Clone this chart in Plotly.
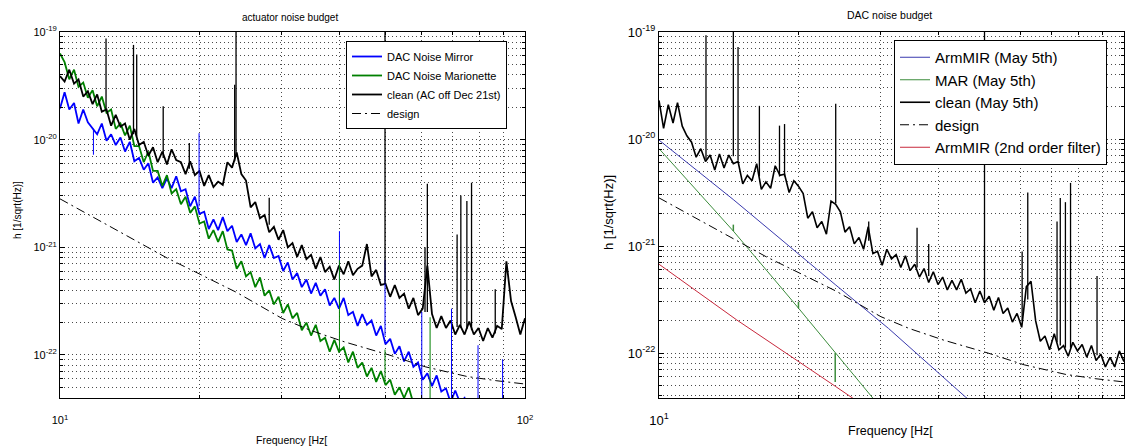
import plotly.graph_objects as go

W, H = 1129, 448
FONT = "Liberation Sans, Arial, sans-serif"

# ---------------- data (frequencies in Hz, amplitudes as log10 of h [1/sqrt(Hz)]) ----------------
freq_hz = [10.00, 10.23, 10.47, 10.72, 10.96, 11.22, 11.48, 11.75, 12.02, 12.30,
           12.59, 12.88, 13.18, 13.49, 13.80, 14.13, 14.45, 14.79, 15.14, 15.49,
           15.85, 16.22, 16.60, 16.98, 17.38, 17.78, 18.20, 18.62, 19.05, 19.50,
           19.95, 20.42, 20.89, 21.38, 21.88, 22.39, 22.91, 23.44, 23.99, 24.55,
           25.12, 25.70, 26.30, 26.92, 27.54, 28.18, 28.84, 29.51, 30.20, 30.90,
           31.62, 32.36, 33.11, 33.88, 34.67, 35.48, 36.31, 37.15, 38.02, 38.90,
           39.81, 40.74, 41.69, 42.66, 43.65, 44.67, 45.71, 46.77, 47.86, 48.98,
           50.12, 51.29, 52.48, 53.70, 54.95, 56.23, 57.54, 58.88, 60.26, 61.66,
           63.10, 64.57, 66.07, 67.61, 69.18, 70.79, 72.44, 74.13, 75.86, 77.62,
           79.43, 81.28, 83.18, 85.11, 87.10, 89.13, 91.20, 93.33, 95.50, 97.72,
           100.0]

# left panel: actuator noise budget
mirror_left_log10 = [
    -19.71, -19.56, -19.72, -19.66, -19.85, -19.72, -19.84, -19.90, -19.95, -19.85,
    -20.01, -19.95, -20.05, -19.98, -20.11, -20.02, -20.20, -20.17, -20.28, -20.22,
    -20.40, -20.35, -20.45, -20.36, -20.45, -20.34, -20.48, -20.46, -20.62, -20.53,
    -20.69, -20.67, -20.83, -20.74, -20.84, -20.72, -20.85, -20.80, -20.95, -20.88,
    -20.98, -20.87, -21.01, -20.97, -21.10, -20.98, -21.10, -21.08, -21.22, -21.14,
    -21.30, -21.24, -21.37, -21.30, -21.43, -21.33, -21.45, -21.39, -21.54, -21.47,
    -21.57, -21.47, -21.63, -21.60, -21.73, -21.62, -21.72, -21.68, -21.82, -21.73,
    -21.90, -21.85, -21.99, -21.92, -22.06, -21.97, -22.11, -22.07, -22.23, -22.17,
    -22.29, -22.19, -22.34, -22.31, -22.44, -22.33, -22.44, -22.40, -22.54, -22.45,
    -22.61]
marionette_left_log10 = [
    -19.20, -19.28, -19.44, -19.35, -19.51, -19.47, -19.61, -19.54, -19.69, -19.60,
    -19.75, -19.72, -19.90, -19.85, -19.96, -19.87, -20.06, -20.06, -20.21, -20.11,
    -20.29, -20.29, -20.43, -20.33, -20.50, -20.46, -20.60, -20.53, -20.68, -20.62,
    -20.78, -20.76, -20.92, -20.84, -20.95, -20.85, -21.02, -21.03, -21.20, -21.13,
    -21.27, -21.23, -21.37, -21.28, -21.45, -21.40, -21.53, -21.46, -21.61, -21.53,
    -21.66, -21.61, -21.77, -21.70, -21.82, -21.72, -21.87, -21.84, -21.97, -21.86,
    -21.97, -21.93, -22.07, -21.97, -22.12, -22.07, -22.20, -22.12, -22.25, -22.15,
    -22.28, -22.23, -22.37, -22.30, -22.40, -22.30, -22.45, -22.42, -22.56, -22.46,
    -22.60]
clean_dec21_log10 = [
    -19.41, -19.46, -19.35, -19.48, -19.44, -19.60, -19.55, -19.67, -19.58, -19.74,
    -19.72, -19.87, -19.77, -19.88, -19.85, -20.00, -19.90, -20.05, -20.02, -20.15,
    -20.07, -20.21, -20.11, -20.23, -20.09, -20.19, -20.21, -20.32, -20.20, -20.33,
    -20.29, -20.43, -20.33, -20.44, -20.39, -20.42, -20.21, -20.26, -20.12, -20.32,
    -20.38, -20.63, -20.58, -20.73, -20.70, -20.86, -20.81, -20.93, -20.84, -21.00,
    -20.96, -21.09, -20.98, -21.11, -21.07, -21.20, -21.09, -21.23, -21.18, -21.30,
    -21.17, -21.25, -21.13, -21.26, -21.20, -21.17, -20.97, -21.27, -21.21, -21.35,
    -21.34, -21.46, -21.35, -21.47, -21.43, -21.57, -21.47, -21.63, -21.57, -21.17,
    -21.62, -21.75, -21.64, -21.75, -21.68, -21.81, -21.72, -21.81, -21.69, -21.81,
    -21.75, -21.87, -21.75, -21.84, -21.73, -21.76, -21.13, -21.50, -21.65, -21.81,
    -21.66]

# narrow lines (frequency, level at the foot, level at the tip)
clean_dec21_line_hz = [12.56, 14.39, 14.62, 16.67, 18.97, 23.75, 23.91, 28.18, 50.0,
                       60.95, 61.66, 71.45, 72.78, 74.99, 76.74, 86.3]
clean_dec21_line_lo = [-19.72, -19.95, -19.97, -20.17, -20.27, -20.20, -20.15, -20.79, -21.34,
                       -21.60, -21.60, -21.74, -21.75, -21.76, -21.77, -21.80]
clean_dec21_line_hi = [-19.06, -19.12, -19.21, -19.69, -20.03, -19.49, -19.00, -20.54, -19.00,
                       -21.00, -20.41, -20.88, -20.52, -20.57, -20.40, -21.39]
mirror_left_line_hz = [11.80, 19.91, 39.9, 50.0, 59.98, 69.5, 79.25, 89.5]
mirror_left_line_lo = [-19.90, -20.62, -21.52, -21.82, -22.45, -22.45, -22.45, -22.45]
mirror_left_line_hi = [-20.14, -19.94, -20.85, -21.12, -21.60, -21.57, -21.91, -22.04]
marionette_left_line_hz = [39.9, 50.0, 62.5]
marionette_left_line_lo = [-21.97, -22.25, -22.45]
marionette_left_line_hi = [-21.12, -21.95, -21.65]

# design sensitivity (both panels)
design_hz = [10, 12, 14.6, 17, 20, 24, 30, 34.5, 41, 51, 61, 75, 87, 100]
design_log10 = [-20.55, -20.74, -20.94, -21.10, -21.25, -21.42, -21.66, -21.77,
                -21.88, -22.00, -22.11, -22.20, -22.24, -22.27]

# right panel: DAC noise budget
clean_may5_log10 = [
    -19.64, -19.90, -19.68, -19.85, -19.66, -19.88, -19.97, -20.03, -20.17, -20.09,
    -20.21, -20.15, -20.29, -20.14, -20.27, -20.15, -20.23, -20.21, -20.42, -20.34,
    -20.39, -20.23, -20.47, -20.40, -20.46, -20.25, -20.34, -20.33, -20.50, -20.39,
    -20.44, -20.51, -20.74, -20.68, -20.83, -20.77, -20.89, -20.58, -20.61, -20.68,
    -20.87, -20.82, -20.98, -20.92, -21.03, -20.82, -21.07, -21.05, -21.18, -21.03,
    -21.12, -21.08, -21.20, -21.09, -21.23, -21.17, -21.29, -21.21, -21.34, -21.24,
    -21.36, -21.29, -21.41, -21.32, -21.41, -21.31, -21.44, -21.40, -21.53, -21.42,
    -21.53, -21.47, -21.60, -21.48, -21.63, -21.58, -21.71, -21.63, -21.76, -21.38,
    -21.33, -21.70, -21.89, -21.84, -21.97, -21.82, -21.97, -21.93, -22.03, -21.90,
    -21.98, -21.92, -22.04, -21.93, -22.07, -22.01, -22.13, -22.04, -22.13, -21.98,
    -22.08]
clean_may5_line_hz = [12.62, 14.45, 14.79, 16.44, 18.16, 18.62, 23.99, 28.25, 35.89,
                      38.02, 50.12, 60.39, 62.09, 71.78, 72.94, 74.82, 76.74, 87.5]
clean_may5_line_lo = [-20.19, -20.16, -20.20, -20.35, -20.35, -20.35, -20.60, -20.95, -21.20,
                      -21.28, -21.50, -21.70, -21.50, -21.90, -21.93, -21.95, -21.95, -22.02]
clean_may5_line_hi = [-19.03, -19.00, -19.14, -19.69, -19.875, -19.86, -19.67, -20.77, -20.83,
                      -20.98, -19.00, -21.05, -20.50, -20.77, -20.55, -20.59, -20.41, -21.28]

armmir_hz = [10, 14.44, 23.93, 31.16, 45.6, 50]
armmir_log10 = [-20.01, -20.565, -21.36, -21.77, -22.41, -22.56]
mar_hz = [10, 14.45, 19.95, 23.93, 28.7, 31.6]
mar_log10 = [-20.09, -20.86, -21.58, -22.00, -22.42, -22.63]
mar_line_hz = [14.45, 19.95, 23.93]
mar_line_lo = [-20.86, -21.58, -22.00]
mar_line_hi = [-20.80, -21.52, -22.27]
armmir_2nd_hz = [10, 14.69, 23.93, 26.0, 30.0]
armmir_2nd_log10 = [-21.17, -21.69, -22.31, -22.42, -22.60]

x_tick_vals = [10, 100]
x_tick_text = ["10<sup>1</sup>", "10<sup>2</sup>"]
x_minor_vals = [20, 30, 40, 50, 60, 70, 80, 90]
y_decades = [-22, -21, -20, -19]
y_tick_text = ["10<sup>-22</sup>", "10<sup>-21</sup>", "10<sup>-20</sup>", "10<sup>-19</sup>"]

# ---------------- figure ----------------
fig = go.Figure()


def lin(vals):
    return [10 ** v for v in vals]


def curve(xa, ya, f, logh, color, name, legend, width=1.0, dash="solid", show=True):
    fig.add_trace(go.Scatter(
        x=f[:len(logh)], y=lin(logh), mode="lines", name=name,
        line=dict(color=color, width=width, dash=dash),
        xaxis=xa, yaxis=ya, legend=legend, showlegend=show, hoverinfo="skip"))


def lines(xa, ya, f, lo, hi, color, width=1.0):
    xs, ys = [], []
    for fi, a, b in zip(f, lo, hi):
        xs += [fi, fi, None]
        ys += [10 ** a, 10 ** b, None]
    fig.add_trace(go.Scatter(
        x=xs, y=ys, mode="lines", line=dict(color=color, width=width),
        xaxis=xa, yaxis=ya, showlegend=False, hoverinfo="skip"))


BLUE_L, GREEN_L = "#0000ff", "#008000"
BLUE_R, GREEN_R, RED_R = "#3a3aae", "#3c8c3c", "#c8283c"
DASHDOT = "9px,4px,2px,4px"

# left panel
curve("x", "y", freq_hz, mirror_left_log10, BLUE_L, "DAC Noise Mirror", "legend", width=1.8)
curve("x", "y", freq_hz, marionette_left_log10, GREEN_L, "DAC Noise Marionette", "legend", width=1.8)
curve("x", "y", freq_hz, clean_dec21_log10, "black", "clean (AC off Dec 21st)", "legend", width=1.8)
curve("x", "y", design_hz, design_log10, "black", "design", "legend", dash=DASHDOT)
lines("x", "y", mirror_left_line_hz, mirror_left_line_lo, mirror_left_line_hi, BLUE_L)
lines("x", "y", marionette_left_line_hz, marionette_left_line_lo, marionette_left_line_hi, GREEN_L)
lines("x", "y", clean_dec21_line_hz, clean_dec21_line_lo, clean_dec21_line_hi, "black", width=1.3)

# right panel
curve("x2", "y2", armmir_hz, armmir_log10, BLUE_R, "ArmMIR (May 5th)", "legend2")
curve("x2", "y2", mar_hz, mar_log10, GREEN_R, "MAR (May 5th)", "legend2")
curve("x2", "y2", freq_hz, clean_may5_log10, "black", "clean (May 5th)", "legend2", width=1.6)
curve("x2", "y2", design_hz, design_log10, "black", "design", "legend2", dash=DASHDOT)
curve("x2", "y2", armmir_2nd_hz, armmir_2nd_log10, RED_R, "ArmMIR (2nd order filter)", "legend2")
lines("x2", "y2", mar_line_hz, mar_line_lo, mar_line_hi, GREEN_R, width=1.5)
lines("x2", "y2", clean_may5_line_hz, clean_may5_line_lo, clean_may5_line_hi, "black", width=1.3)

# minor grid positions (mantissas 2..9 of each decade)
y_minor_vals = [m * 10.0 ** d for d in (-23, -22, -21, -20) for m in range(2, 10)]

GRID = dict(gridcolor="#4a4a4a", griddash="1px,3px", gridwidth=1)


def axis(fs, minor_vals, **kw):
    a = dict(type="log", showline=True, linecolor="black", linewidth=1, mirror="ticks",
             ticks="inside", ticklen=5, tickcolor="black", tickwidth=1,
             showgrid=True, tickmode="array", zeroline=False, automargin=False,
             fixedrange=True, tickfont=dict(family=FONT, size=fs, color="black"),
             minor=dict(tickmode="array", tickvals=minor_vals, showgrid=True,
                        ticks="inside", ticklen=3, tickcolor="black", **GRID),
             **GRID)
    a.update(kw)
    return a


yd = [1 - 398 / H, 1 - 32 / H]
y_major_vals = [10.0 ** d for d in y_decades]
fig.update_layout(
    width=W, height=H, margin=dict(l=0, r=0, t=0, b=0),
    paper_bgcolor="white", plot_bgcolor="white",
    font=dict(family=FONT, color="black"),
    xaxis=axis(11, x_minor_vals, domain=[60 / W, 525 / W], range=[1, 2], anchor="y",
               tickvals=x_tick_vals, ticktext=x_tick_text, ticklabelstandoff=12),
    yaxis=axis(11, y_minor_vals, domain=yd, range=[-22.4, -19.0], anchor="x",
               tickvals=y_major_vals, ticktext=y_tick_text),
    xaxis2=axis(13, x_minor_vals, domain=[659 / W, 1124 / W], range=[1, 2], anchor="y2",
                tickvals=x_tick_vals, ticktext=x_tick_text, ticklabelstandoff=10),
    yaxis2=axis(13, y_minor_vals, domain=yd, range=[-22.42, -19.0], anchor="x2",
                tickvals=y_major_vals, ticktext=y_tick_text),
    legend=dict(x=346 / W, y=1 - 41 / H, xanchor="left", yanchor="top",
                bordercolor="black", borderwidth=1, bgcolor="white",
                font=dict(family=FONT, size=11, color="black"), tracegroupgap=0),
    legend2=dict(x=894 / W, y=1 - 40 / H, xanchor="left", yanchor="top",
                 bordercolor="black", borderwidth=1, bgcolor="white",
                 font=dict(family=FONT, size=15, color="black"), tracegroupgap=0),
    showlegend=True,
)

ann = [
    ("actuator noise budget", 290, 18, 10, 0),
    ("DAC noise budget", 889, 15, 10.5, 0),
    ("h [1/sqrt(Hz)]", 17, 210, 10, -90),
    ("h [1/sqrt(Hz)]", 608, 213, 13, -90),
    ("Frequency [Hz[", 291, 440, 10.5, 0),
    ("Frequency [Hz[", 890, 431, 12.5, 0),
]
for text, px, py, fs, ang in ann:
    fig.add_annotation(text=text, x=px / W, y=1 - py / H, xref="paper", yref="paper",
                       showarrow=False, xanchor="center", yanchor="middle", textangle=ang,
                       font=dict(family=FONT, size=fs, color="black"))

fig.write_html("out.html")
